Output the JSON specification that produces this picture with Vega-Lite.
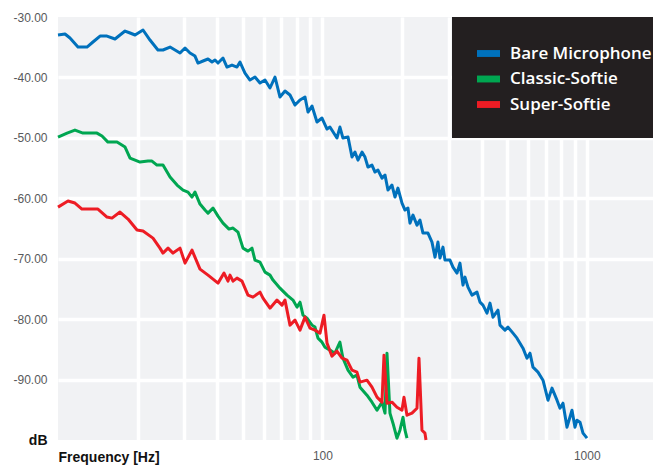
{
  "$schema": "https://vega.github.io/schema/vega-lite/v6.json",
  "width": 595,
  "height": 423,
  "autosize": {"type": "none"},
  "padding": {"left": 58, "top": 17, "right": 0, "bottom": 28},
  "background": "white",
  "config": {
    "view": {"stroke": null, "fill": "#f1f2f4"},
    "axis": {"domain": false, "ticks": false, "gridColor": "white", "gridWidth": 3.5, "gridOpacity": 1}
  },
  "datasets": {
    "bare": [
      {"freq": 10.0, "db": -32.98}, {"freq": 10.63, "db": -32.81}, {"freq": 11.10, "db": -33.48}, {"freq": 11.90, "db": -34.97},
      {"freq": 12.87, "db": -34.97}, {"freq": 13.56, "db": -34.14}, {"freq": 14.42, "db": -33.15}, {"freq": 15.32, "db": -33.15},
      {"freq": 16.43, "db": -33.64}, {"freq": 17.16, "db": -32.98}, {"freq": 17.93, "db": -32.32}, {"freq": 18.73, "db": -32.65},
      {"freq": 19.56, "db": -32.98}, {"freq": 20.97, "db": -32.15}, {"freq": 22.28, "db": -33.81}, {"freq": 23.88, "db": -35.46},
      {"freq": 24.95, "db": -35.46}, {"freq": 26.53, "db": -34.97}, {"freq": 27.71, "db": -35.46}, {"freq": 28.94, "db": -35.96},
      {"freq": 30.23, "db": -35.13}, {"freq": 31.57, "db": -35.96}, {"freq": 32.97, "db": -36.46}, {"freq": 33.85, "db": -37.62},
      {"freq": 35.36, "db": -37.28}, {"freq": 36.93, "db": -36.95}, {"freq": 38.24, "db": -37.45}, {"freq": 39.25, "db": -37.12},
      {"freq": 40.29, "db": -37.62}, {"freq": 42.08, "db": -36.79}, {"freq": 43.57, "db": -38.28}, {"freq": 45.51, "db": -37.95},
      {"freq": 47.53, "db": -38.28}, {"freq": 48.79, "db": -37.45}, {"freq": 50.96, "db": -39.27}, {"freq": 53.22, "db": -40.43},
      {"freq": 55.59, "db": -39.93}, {"freq": 58.07, "db": -40.93}, {"freq": 60.66, "db": -40.43}, {"freq": 63.36, "db": -41.75},
      {"freq": 66.18, "db": -39.93}, {"freq": 69.12, "db": -43.25}, {"freq": 72.20, "db": -42.25}, {"freq": 75.41, "db": -42.91},
      {"freq": 78.77, "db": -44.57}, {"freq": 82.28, "db": -43.74}, {"freq": 85.94, "db": -43.25}, {"freq": 88.22, "db": -45.73},
      {"freq": 91.34, "db": -44.74}, {"freq": 95.40, "db": -47.38}, {"freq": 99.65, "db": -46.72}, {"freq": 104.1, "db": -48.54},
      {"freq": 106.8, "db": -48.21}, {"freq": 113.5, "db": -50.03}, {"freq": 116.5, "db": -48.21}, {"freq": 119.6, "db": -50.03},
      {"freq": 125.0, "db": -49.87}, {"freq": 129.4, "db": -53.18}, {"freq": 132.8, "db": -52.35}, {"freq": 136.3, "db": -53.68},
      {"freq": 141.2, "db": -52.35}, {"freq": 144.9, "db": -53.18}, {"freq": 148.7, "db": -54.83}, {"freq": 154.0, "db": -54.50},
      {"freq": 158.1, "db": -55.66}, {"freq": 162.3, "db": -55.33}, {"freq": 168.0, "db": -56.66}, {"freq": 172.5, "db": -56.16},
      {"freq": 177.0, "db": -58.64}, {"freq": 183.3, "db": -57.81}, {"freq": 188.2, "db": -59.80}, {"freq": 193.1, "db": -58.31},
      {"freq": 200.0, "db": -60.79}, {"freq": 205.3, "db": -61.95}, {"freq": 210.7, "db": -61.62}, {"freq": 214.4, "db": -64.11},
      {"freq": 220.1, "db": -62.78}, {"freq": 227.9, "db": -64.44}, {"freq": 233.9, "db": -63.61}, {"freq": 240.1, "db": -65.76},
      {"freq": 250.8, "db": -65.76}, {"freq": 259.7, "db": -67.25}, {"freq": 266.6, "db": -69.74}, {"freq": 273.6, "db": -67.25},
      {"freq": 278.4, "db": -69.90}, {"freq": 285.8, "db": -68.08}, {"freq": 290.8, "db": -70.23}, {"freq": 303.8, "db": -70.23},
      {"freq": 311.8, "db": -71.39}, {"freq": 322.9, "db": -72.38}, {"freq": 331.4, "db": -70.73}, {"freq": 340.2, "db": -74.37},
      {"freq": 346.2, "db": -73.05}, {"freq": 355.3, "db": -74.70}, {"freq": 367.9, "db": -76.03}, {"freq": 384.3, "db": -75.53},
      {"freq": 394.5, "db": -77.19}, {"freq": 404.9, "db": -77.68}, {"freq": 419.3, "db": -79.01}, {"freq": 430.4, "db": -77.35},
      {"freq": 441.8, "db": -79.67}, {"freq": 461.4, "db": -78.51}, {"freq": 469.5, "db": -80.99}, {"freq": 490.4, "db": -81.82},
      {"freq": 503.4, "db": -81.32}, {"freq": 525.9, "db": -82.32}, {"freq": 544.5, "db": -83.15}, {"freq": 573.7, "db": -84.80},
      {"freq": 594.0, "db": -86.46}, {"freq": 609.7, "db": -85.63}, {"freq": 625.9, "db": -87.95}, {"freq": 653.7, "db": -88.77},
      {"freq": 682.9, "db": -90.10}, {"freq": 713.3, "db": -93.41}, {"freq": 738.5, "db": -91.42}, {"freq": 771.4, "db": -93.41},
      {"freq": 791.9, "db": -94.74}, {"freq": 812.8, "db": -93.91}, {"freq": 841.6, "db": -97.88}, {"freq": 879.1, "db": -95.07},
      {"freq": 902.3, "db": -97.88}, {"freq": 918.2, "db": -96.72}, {"freq": 942.5, "db": -97.05}, {"freq": 967.5, "db": -98.87},
      {"freq": 1001.8, "db": -99.70}
    ],
    "classic": [
      {"freq": 10.0, "db": -49.87}, {"freq": 10.82, "db": -49.21}, {"freq": 11.59, "db": -48.71}, {"freq": 12.43, "db": -49.21},
      {"freq": 14.04, "db": -49.21}, {"freq": 14.67, "db": -49.70}, {"freq": 15.45, "db": -50.70}, {"freq": 16.72, "db": -50.70},
      {"freq": 17.93, "db": -51.52}, {"freq": 18.73, "db": -53.34}, {"freq": 20.43, "db": -54.01}, {"freq": 21.90, "db": -53.84},
      {"freq": 22.67, "db": -53.84}, {"freq": 23.67, "db": -54.50}, {"freq": 24.95, "db": -54.50}, {"freq": 26.53, "db": -56.49},
      {"freq": 28.20, "db": -57.81}, {"freq": 29.71, "db": -58.64}, {"freq": 31.02, "db": -58.97}, {"freq": 32.12, "db": -59.80},
      {"freq": 32.97, "db": -58.97}, {"freq": 34.44, "db": -60.96}, {"freq": 35.98, "db": -61.95}, {"freq": 36.93, "db": -62.45},
      {"freq": 38.57, "db": -61.62}, {"freq": 40.29, "db": -62.95}, {"freq": 42.08, "db": -64.11}, {"freq": 44.34, "db": -65.10},
      {"freq": 45.91, "db": -64.93}, {"freq": 47.95, "db": -65.60}, {"freq": 50.08, "db": -68.25}, {"freq": 52.30, "db": -68.74},
      {"freq": 54.16, "db": -68.25}, {"freq": 55.59, "db": -70.23}, {"freq": 58.07, "db": -70.56}, {"freq": 60.66, "db": -72.22},
      {"freq": 63.36, "db": -72.72}, {"freq": 65.04, "db": -73.54}, {"freq": 69.12, "db": -74.87}, {"freq": 73.47, "db": -76.03},
      {"freq": 77.41, "db": -76.85}, {"freq": 80.15, "db": -78.01}, {"freq": 82.28, "db": -77.19}, {"freq": 84.46, "db": -79.34},
      {"freq": 87.45, "db": -79.83}, {"freq": 91.34, "db": -80.99}, {"freq": 93.75, "db": -81.32}, {"freq": 96.23, "db": -83.15},
      {"freq": 99.65, "db": -83.81}, {"freq": 102.29, "db": -84.64}, {"freq": 106.8, "db": -85.13}, {"freq": 111.5, "db": -85.63},
      {"freq": 116.5, "db": -83.81}, {"freq": 119.6, "db": -86.46}, {"freq": 125.0, "db": -88.44}, {"freq": 130.5, "db": -89.60},
      {"freq": 135.1, "db": -89.27}, {"freq": 138.7, "db": -91.26}, {"freq": 147.4, "db": -92.58}, {"freq": 154.0, "db": -93.74},
      {"freq": 160.9, "db": -95.07}, {"freq": 168.0, "db": -93.74}, {"freq": 172.5, "db": -95.56}, {"freq": 175.5, "db": -85.63},
      {"freq": 180.1, "db": -95.56}, {"freq": 184.9, "db": -97.22}, {"freq": 191.4, "db": -99.70}, {"freq": 196.5, "db": -98.38},
      {"freq": 201.75, "db": -96.23}, {"freq": 205.3, "db": -98.38}, {"freq": 208.9, "db": -99.70}
    ],
    "superSoftie": [
      {"freq": 10.0, "db": -61.46}, {"freq": 10.91, "db": -60.46}, {"freq": 11.59, "db": -60.79}, {"freq": 12.32, "db": -61.79},
      {"freq": 14.16, "db": -61.79}, {"freq": 15.32, "db": -63.11}, {"freq": 16.00, "db": -63.28}, {"freq": 17.16, "db": -62.28},
      {"freq": 18.40, "db": -63.44}, {"freq": 19.90, "db": -65.26}, {"freq": 20.97, "db": -65.43}, {"freq": 22.87, "db": -66.59},
      {"freq": 24.30, "db": -68.25}, {"freq": 24.95, "db": -69.07}, {"freq": 26.07, "db": -68.25}, {"freq": 27.23, "db": -69.07},
      {"freq": 28.94, "db": -68.25}, {"freq": 30.23, "db": -70.73}, {"freq": 32.12, "db": -68.58}, {"freq": 34.44, "db": -71.72},
      {"freq": 36.93, "db": -72.72}, {"freq": 40.29, "db": -74.04}, {"freq": 42.45, "db": -72.38}, {"freq": 43.95, "db": -73.71},
      {"freq": 44.72, "db": -72.72}, {"freq": 45.91, "db": -73.71}, {"freq": 47.53, "db": -73.21}, {"freq": 49.65, "db": -73.71},
      {"freq": 52.30, "db": -76.03}, {"freq": 54.63, "db": -76.36}, {"freq": 58.07, "db": -75.53}, {"freq": 59.61, "db": -76.52},
      {"freq": 63.36, "db": -78.18}, {"freq": 67.34, "db": -76.85}, {"freq": 70.33, "db": -77.68}, {"freq": 72.20, "db": -76.85},
      {"freq": 75.41, "db": -80.99}, {"freq": 78.77, "db": -80.17}, {"freq": 82.28, "db": -81.82}, {"freq": 85.94, "db": -79.67},
      {"freq": 89.77, "db": -81.49}, {"freq": 93.75, "db": -81.82}, {"freq": 97.93, "db": -82.32}, {"freq": 101.4, "db": -79.34},
      {"freq": 104.1, "db": -83.97}, {"freq": 108.7, "db": -86.13}, {"freq": 113.5, "db": -85.30}, {"freq": 118.6, "db": -86.46},
      {"freq": 123.9, "db": -86.79}, {"freq": 129.4, "db": -88.44}, {"freq": 135.1, "db": -88.77}, {"freq": 138.7, "db": -90.43},
      {"freq": 147.4, "db": -90.10}, {"freq": 154.0, "db": -91.26}, {"freq": 160.9, "db": -92.91}, {"freq": 168.0, "db": -93.74},
      {"freq": 171.0, "db": -85.96}, {"freq": 175.5, "db": -93.91}, {"freq": 183.3, "db": -93.74}, {"freq": 191.4, "db": -94.57},
      {"freq": 200.0, "db": -95.07}, {"freq": 203.5, "db": -92.91}, {"freq": 208.9, "db": -95.89}, {"freq": 218.2, "db": -95.56},
      {"freq": 227.9, "db": -94.74}, {"freq": 231.9, "db": -86.46}, {"freq": 238.0, "db": -98.38}, {"freq": 244.3, "db": -98.87},
      {"freq": 246.5, "db": -100.0}
    ]
  },
  "layer": [
    {
      "data": {"name": "bare"},
      "transform": [{"calculate": "'Bare Microphone'", "as": "series"}],
      "mark": {"type": "line", "strokeWidth": 3, "strokeJoin": "round"},
      "encoding": {
        "x": {
          "field": "freq", "type": "quantitative",
          "scale": {"type": "log", "domain": [10, 1780], "nice": false},
          "axis": {
            "title": null,
            "values": [10, 20, 30, 40, 50, 60, 70, 80, 90, 100, 200, 300, 400, 500, 600, 700, 800, 900, 1000],
            "labelExpr": "datum.value == 10 ? 'Frequency [Hz]' : (datum.value == 100 || datum.value == 1000) ? '' + datum.value : ''",
            "labelFont": "Liberation Sans",
            "labelFontSize": {"condition": {"test": "datum.value == 10", "value": 14}, "value": 12},
            "labelFontWeight": {"condition": {"test": "datum.value == 10", "value": "bold"}, "value": "normal"},
            "labelColor": {"condition": {"test": "datum.value == 10", "value": "#111111"}, "value": "#58595b"},
            "labelAlign": {"condition": {"test": "datum.value == 10", "value": "left"}, "value": "center"},
            "labelPadding": 10,
            "labelFlush": false,
            "labelOverlap": false,
            "gridColor": {"condition": {"test": "datum.value == 10", "value": "transparent"}, "value": "white"}
          }
        },
        "y": {
          "field": "db", "type": "quantitative",
          "scale": {"domain": [-100, -30], "nice": false, "zero": false},
          "axis": {
            "title": null,
            "values": [-100, -90, -80, -70, -60, -50, -40, -30],
            "labelExpr": "datum.value == -100 ? 'dB' : datum.value + '.00'",
            "labelFont": "Liberation Sans",
            "labelFontSize": {"condition": {"test": "datum.value == -100", "value": 14}, "value": 12},
            "labelFontWeight": {"condition": {"test": "datum.value == -100", "value": "bold"}, "value": "normal"},
            "labelColor": {"condition": {"test": "datum.value == -100", "value": "#111111"}, "value": "#58595b"},
            "labelPadding": 11,
            "labelFlush": false,
            "labelOverlap": false,
            "gridColor": {"condition": {"test": "datum.value == -100 || datum.value == -30", "value": "transparent"}, "value": "white"}
          }
        },
        "color": {
          "field": "series", "type": "nominal",
          "scale": {"domain": ["Bare Microphone", "Classic-Softie", "Super-Softie"], "range": ["#0071bc", "#00a651", "#ed1c24"]},
          "legend": {
            "title": null,
            "orient": "none",
            "legendX": 394,
            "legendY": 0,
            "fillColor": "#231f20",
            "padding": 25,
            "symbolType": "M-1,-0.3H1V0.3H-1Z",
            "symbolSize": 529,
            "symbolStrokeWidth": 0,
            "labelColor": "white",
            "labelFont": "Open Sans",
            "labelFontWeight": 600,
            "labelFontSize": 17,
            "labelOffset": 10,
            "rowPadding": 5.5,
            "labelLimit": 300,
            "encode": {"symbols": {"update": {"fill": {"scale": "color", "field": "value"}, "fillOpacity": {"value": 1}}}}
          }
        }
      }
    },
    {
      "data": {"name": "classic"},
      "transform": [{"calculate": "'Classic-Softie'", "as": "series"}],
      "mark": {"type": "line", "strokeWidth": 3, "strokeJoin": "round"},
      "encoding": {
        "x": {"field": "freq", "type": "quantitative"},
        "y": {"field": "db", "type": "quantitative"},
        "color": {"field": "series", "type": "nominal"}
      }
    },
    {
      "data": {"name": "superSoftie"},
      "transform": [{"calculate": "'Super-Softie'", "as": "series"}],
      "mark": {"type": "line", "strokeWidth": 3, "strokeJoin": "round"},
      "encoding": {
        "x": {"field": "freq", "type": "quantitative"},
        "y": {"field": "db", "type": "quantitative"},
        "color": {"field": "series", "type": "nominal"}
      }
    }
  ]
}
